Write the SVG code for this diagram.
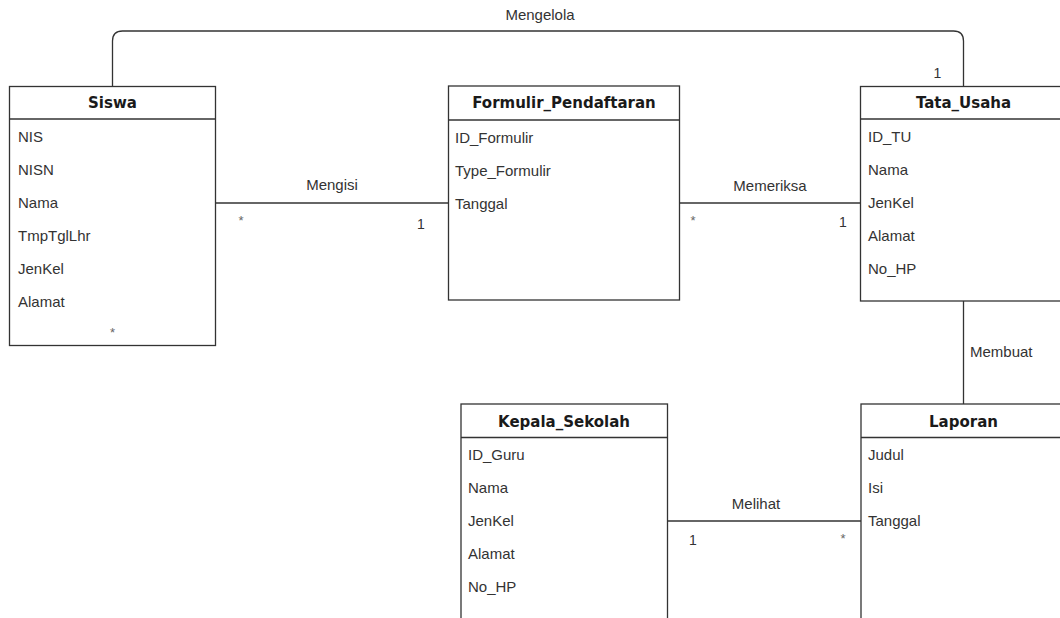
<svg xmlns="http://www.w3.org/2000/svg" width="1060" height="618" viewBox="0 0 1060 618">
  <style>
    .box { fill: #ffffff; stroke: #333333; stroke-width: 1.3; }
    .sep { stroke: #333333; stroke-width: 1.3; }
    .title { font-family: "DejaVu Sans", Verdana, sans-serif; font-weight: bold; font-size: 15px; fill: #1a1a1a; text-anchor: middle; }
    .attr { font-family: "Liberation Sans", Arial, sans-serif; font-size: 15px; fill: #333333; }
    .rel { font-family: "Liberation Sans", Arial, sans-serif; font-size: 15px; fill: #333333; }
    .one { font-family: "Liberation Sans", Arial, sans-serif; font-size: 14px; fill: #333333; text-anchor: middle; }
    .many { font-family: "Liberation Sans", Arial, sans-serif; font-size: 13px; fill: #666666; text-anchor: middle; }
    .edge { fill: none; stroke: #333333; stroke-width: 1.3; }
  </style>
  <rect width="1060" height="618" fill="#ffffff"/>

  <!-- Siswa -->
  <g id="siswa">
    <rect class="box" x="9.5" y="86.5" width="206" height="259"/>
    <line class="sep" x1="9.5" y1="119" x2="215.5" y2="119"/>
    <text class="title" x="112.5" y="108">Siswa</text>
    <text class="attr" x="18" y="142">NIS</text>
    <text class="attr" x="18" y="175">NISN</text>
    <text class="attr" x="18" y="208">Nama</text>
    <text class="attr" x="18" y="241">TmpTglLhr</text>
    <text class="attr" x="18" y="274">JenKel</text>
    <text class="attr" x="18" y="307">Alamat</text>
  </g>

  <!-- Formulir_Pendaftaran -->
  <g id="formulir-pendaftaran">
    <rect class="box" x="448.5" y="86" width="231" height="214"/>
    <line class="sep" x1="448.5" y1="120" x2="679.5" y2="120"/>
    <text class="title" x="564" y="108">Formulir_Pendaftaran</text>
    <text class="attr" x="455" y="143">ID_Formulir</text>
    <text class="attr" x="455" y="176">Type_Formulir</text>
    <text class="attr" x="455" y="209">Tanggal</text>
  </g>

  <!-- Tata_Usaha -->
  <g id="tata-usaha">
    <rect class="box" x="860.5" y="86.5" width="206" height="214.5"/>
    <line class="sep" x1="860.5" y1="119" x2="1066.5" y2="119"/>
    <text class="title" x="963.5" y="108">Tata_Usaha</text>
    <text class="attr" x="868" y="142">ID_TU</text>
    <text class="attr" x="868" y="175">Nama</text>
    <text class="attr" x="868" y="208">JenKel</text>
    <text class="attr" x="868" y="241">Alamat</text>
    <text class="attr" x="868" y="274">No_HP</text>
  </g>

  <!-- Kepala_Sekolah -->
  <g id="kepala-sekolah">
    <rect class="box" x="461" y="404" width="206.5" height="230"/>
    <line class="sep" x1="461" y1="437.5" x2="667.5" y2="437.5"/>
    <text class="title" x="564" y="427">Kepala_Sekolah</text>
    <text class="attr" x="468" y="460">ID_Guru</text>
    <text class="attr" x="468" y="493">Nama</text>
    <text class="attr" x="468" y="526">JenKel</text>
    <text class="attr" x="468" y="559">Alamat</text>
    <text class="attr" x="468" y="592">No_HP</text>
  </g>

  <!-- Laporan -->
  <g id="laporan">
    <rect class="box" x="861" y="404" width="206" height="230"/>
    <line class="sep" x1="861" y1="437.5" x2="1067" y2="437.5"/>
    <text class="title" x="963.5" y="427">Laporan</text>
    <text class="attr" x="868" y="460">Judul</text>
    <text class="attr" x="868" y="493">Isi</text>
    <text class="attr" x="868" y="526">Tanggal</text>
  </g>

  <!-- connectors with role names and multiplicities -->
  <g id="connectors">
    <path class="edge" d="M112.5 86 V41 Q112.5 31 122.5 31 H953.5 Q963.5 31 963.5 41 V86"/>
    <path class="edge" d="M215.5 203 H448.5"/>
    <path class="edge" d="M679.5 203 H860.5"/>
    <path class="edge" d="M963.5 301 V404"/>
    <path class="edge" d="M667.5 521 H861"/>
    <text class="rel" x="540" y="20" text-anchor="middle">Mengelola</text>
    <text class="one" x="937.5" y="78">1</text>
    <text class="many" x="112.5" y="337">*</text>
    <text class="rel" x="332" y="190" text-anchor="middle">Mengisi</text>
    <text class="many" x="241" y="225">*</text>
    <text class="one" x="421" y="229">1</text>
    <text class="rel" x="770" y="191" text-anchor="middle">Memeriksa</text>
    <text class="many" x="693" y="225">*</text>
    <text class="one" x="843" y="227">1</text>
    <text class="rel" x="970" y="357">Membuat</text>
    <text class="rel" x="756" y="509" text-anchor="middle">Melihat</text>
    <text class="one" x="693" y="545">1</text>
    <text class="many" x="843" y="543">*</text>
  </g>
</svg>
